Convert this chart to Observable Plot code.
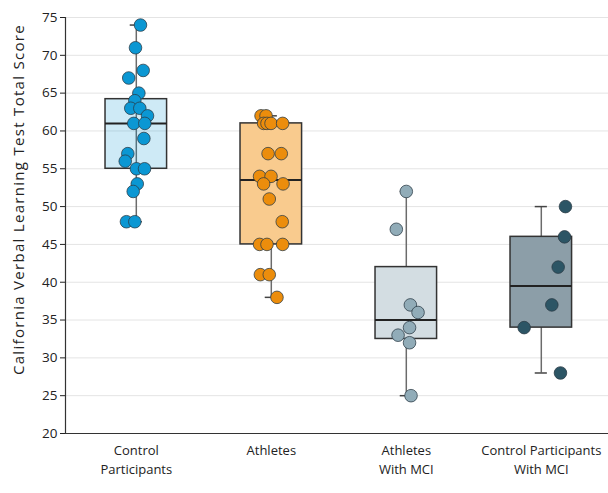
<!DOCTYPE html>
<html>
<head>
<meta charset="utf-8">
<script src="https://cdn.jsdelivr.net/npm/d3@7"></script>
<script src="https://cdn.jsdelivr.net/npm/@observablehq/plot@0.6"></script>
<style>
  html, body { margin: 0; padding: 0; background: #fff; }
  #chart svg { display: block; }
</style>
</head>
<body>
<div id="chart"></div>
<script>
// ---- Data ----
const groups = ["Control Participants", "Athletes", "Athletes With MCI", "Control Participants With MCI"];
const tickLabels = ["Control\nParticipants", "Athletes", "Athletes\nWith MCI", "Control Participants\nWith MCI"];
const yTicks = [20, 25, 30, 35, 40, 45, 50, 55, 60, 65, 70, 75];
const yLabel = "California Verbal Learning Test Total Score";

// box-plot statistics per group
const whiskerLow = [48, 38, 25, 28];
const quartile1 = [55, 45, 32.5, 34];
const medians = [61, 53.5, 35, 39.5];
const quartile3 = [64.2, 61, 42, 46];
const whiskerHigh = [74, 62, 52, 50];

// individual scores (and horizontal jitter, in group-spacing units)
const controlScores = [74, 71, 68, 67, 65, 64, 63, 63, 62, 61, 61, 59, 57, 56, 55, 55, 53, 52, 48, 48];
const controlJitter = [0.031, -0.006, 0.051, -0.056, 0.019, -0.011, -0.041, 0.026, 0.083, -0.019, 0.063, 0.056, -0.063, -0.082, 0.001, 0.061, 0.007, -0.023, -0.073, -0.011];
const athleteScores = [62, 62, 61, 61, 61, 61, 57, 57, 54, 54, 53, 53, 51, 48, 45, 45, 45, 41, 41, 38];
const athleteJitter = [-0.076, -0.039, -0.057, -0.032, -0.002, 0.084, -0.024, 0.074, -0.087, -0.002, -0.057, 0.087, -0.015, 0.081, -0.087, -0.032, 0.084, -0.081, -0.015, 0.042];
const athleteMciScores = [52, 47, 37, 36, 34, 33, 32, 25];
const athleteMciJitter = [0, -0.074, 0.03, 0.087, 0.024, -0.061, 0.024, 0.035];
const controlMciScores = [50, 46, 42, 37, 34, 28];
const controlMciJitter = [0.179, 0.172, 0.125, 0.078, -0.127, 0.142];

// colours
const pointColors = ["#0b97d3", "#ec8d0c", "#91acb8", "#2c5565"];
const boxColors = ["#0b97d3", "#f9cb8e", "#d3dde2", "#8c9ea8"];
const boxOpacity = [0.2, 1, 1, 1];

// ---- Build tables ----
const boxes = groups.map((g, i) => ({
  i, group: g, low: whiskerLow[i], q1: quartile1[i], med: medians[i], q3: quartile3[i], high: whiskerHigh[i],
  fill: boxColors[i], op: boxOpacity[i]
}));
const pointSets = [[controlScores, controlJitter], [athleteScores, athleteJitter], [athleteMciScores, athleteMciJitter], [controlMciScores, controlMciJitter]];
const points = pointSets.flatMap(([s, j], i) => s.map((v, k) => ({ i, x: i + j[k], y: v, color: pointColors[i] })));

const HW = 0.228;  // box half width in group units
const CAP = 0.045; // whisker cap half width

const font = "'Open Sans', 'DejaVu Sans', sans-serif";

const chart = Plot.plot({
  width: 608,
  height: 493,
  marginLeft: 65,
  marginRight: 0,
  marginTop: 17,
  marginBottom: 60,
  style: { fontFamily: font, fontSize: "13px", color: "#222", background: "#fff" },
  x: { type: "linear", domain: [-0.5, 3.5], range: [68.3, 608.3] },
  y: { domain: [20, 75], range: [433, 17] },
  marks: [
    Plot.ruleY(yTicks.filter(d => d > 20), { stroke: "#e4e4e4", strokeWidth: 1 }),
    // whiskers
    Plot.ruleX(boxes, { x: "i", y1: "low", y2: "high", stroke: "#6b6b6b", strokeWidth: 1.5 }),
    Plot.ruleY(boxes, { y: "low", x1: d => d.i - CAP, x2: d => d.i + CAP, stroke: "#444", strokeWidth: 1.5 }),
    Plot.ruleY(boxes, { y: "high", x1: d => d.i - CAP, x2: d => d.i + CAP, stroke: "#444", strokeWidth: 1.5 }),
    // boxes
    Plot.rect(boxes, { x1: d => d.i - HW, x2: d => d.i + HW, y1: "q1", y2: "q3", fill: d => d.fill, fillOpacity: "op", stroke: "#333", strokeWidth: 1.5 }),
    Plot.ruleY(boxes, { y: "med", x1: d => d.i - HW, x2: d => d.i + HW, stroke: "#222", strokeWidth: 2 }),
    // points
    Plot.dot(points, { x: "x", y: "y", r: 6.3, fill: d => d.color, stroke: "#2a3a44", strokeOpacity: 0.75, strokeWidth: 1 }),
    // axes
    Plot.axisY({ ticks: yTicks, tickSize: 5, tickPadding: 3, fontSize: 13.5, label: null }),
    Plot.text([yLabel], { frameAnchor: "left", text: d => d, textAnchor: "middle", rotate: -90, dx: -46, dy: -26, fontSize: 15, fill: "#222" }),
    Plot.axisX({ ticks: [0, 1, 2, 3], tickFormat: i => tickLabels[i], tickSize: 0, tickPadding: 9, fontSize: 13, lineHeight: 1.4, label: null }),
    Plot.ruleX([20], { x: () => -0.5, dx: -3.3, y1: 20, y2: 75, stroke: "#333", strokeWidth: 1.2 }),
    Plot.ruleY([20], { stroke: "#333", strokeWidth: 1.2 })
  ]
});
d3.select(chart).selectAll("text").filter(function () { return this.textContent === yLabel; })
  .style("letter-spacing", "1.3px");
document.getElementById("chart").appendChild(chart);
</script>
</body>
</html>
